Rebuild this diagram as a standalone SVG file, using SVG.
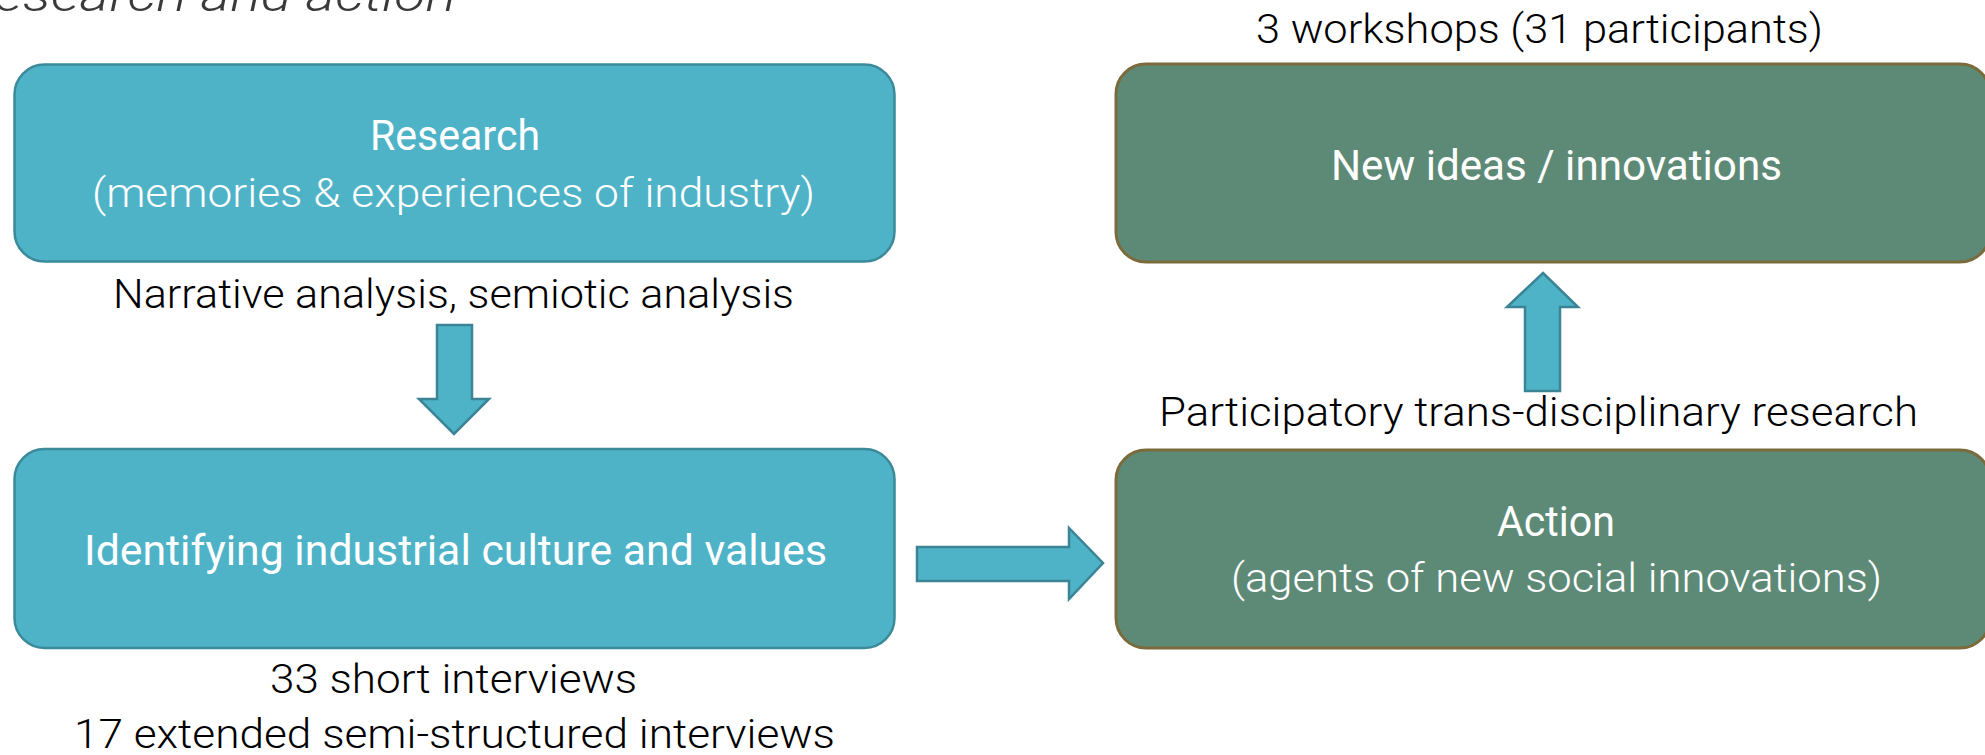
<svg xmlns="http://www.w3.org/2000/svg" width="1985" height="755" viewBox="0 0 1985 755">
  <style>
    .box-teal { fill: #4fb3c8; stroke: #3b8a9a; stroke-width: 2.5; }
    .box-green { fill: #5d8a76; stroke: #7a6b3c; stroke-width: 3; }
    .arrow { fill: #4fb3c8; stroke: #3a8496; stroke-width: 2.5; stroke-linejoin: miter; }
    text { font-family: Roboto, "Liberation Sans", sans-serif; font-weight: 300; font-size: 40px; text-anchor: middle; }
    .in { fill: #ffffff; }
    .head { font-weight: 400; font-size: 42px; }
    .lbl { fill: #000000; }
    .title { fill: #3a3a3a; font-style: italic; font-size: 46px; text-anchor: start; }
  </style>

  <rect width="1985" height="755" fill="#ffffff"/>

  <!-- slide heading, running off the top edge -->
  <text class="title" x="-6" y="11" textLength="462" lengthAdjust="spacingAndGlyphs">esearch and action</text>

  <!-- block arrows between the stages -->
  <g id="connectors">
    <polygon class="arrow" points="437,325 472,325 472,399 489,399 454,434 419,399 437,399"/>
    <polygon class="arrow" points="917,547 1069,547 1069,528 1103,563 1069,599 1069,581 917,581"/>
    <polygon class="arrow" points="1543,273 1578,307 1560,307 1560,391 1525,391 1525,307 1507,307"/>
  </g>

  <g id="research">
    <rect class="box-teal" x="14.5" y="64.5" width="880" height="197" rx="30"/>
    <text class="in head" x="455" y="150" textLength="170" lengthAdjust="spacingAndGlyphs">Research</text>
    <text class="in" x="453.5" y="207" textLength="723" lengthAdjust="spacingAndGlyphs">(memories &amp; experiences of industry)</text>
  </g>
  <text id="label-analysis" class="lbl" x="453.5" y="308" textLength="681" lengthAdjust="spacingAndGlyphs">Narrative analysis, semiotic analysis</text>

  <g id="identifying">
    <rect class="box-teal" x="14.5" y="449" width="880" height="199" rx="30"/>
    <text class="in head" x="455.5" y="565" textLength="743" lengthAdjust="spacingAndGlyphs">Identifying industrial culture and values</text>
  </g>
  <g id="label-interviews">
    <text class="lbl" x="453.5" y="693" textLength="367" lengthAdjust="spacingAndGlyphs">33 short interviews</text>
    <text class="lbl" x="454.5" y="748" textLength="761" lengthAdjust="spacingAndGlyphs">17 extended semi-structured interviews</text>
  </g>

  <text id="label-workshops" class="lbl" x="1539.5" y="43" textLength="567" lengthAdjust="spacingAndGlyphs">3 workshops (31 participants)</text>
  <g id="new-ideas">
    <rect class="box-green" x="1116" y="64" width="874" height="198" rx="30"/>
    <text class="in head" x="1556.5" y="180" textLength="451" lengthAdjust="spacingAndGlyphs">New ideas / innovations</text>
  </g>

  <text id="label-participatory" class="lbl" x="1538.5" y="426" textLength="759" lengthAdjust="spacingAndGlyphs">Participatory trans-disciplinary research</text>
  <g id="action">
    <rect class="box-green" x="1116" y="450" width="874" height="198" rx="30"/>
    <text class="in head" x="1556" y="536" textLength="118" lengthAdjust="spacingAndGlyphs">Action</text>
    <text class="in" x="1556.5" y="592" textLength="651" lengthAdjust="spacingAndGlyphs">(agents of new social innovations)</text>
  </g>
</svg>
